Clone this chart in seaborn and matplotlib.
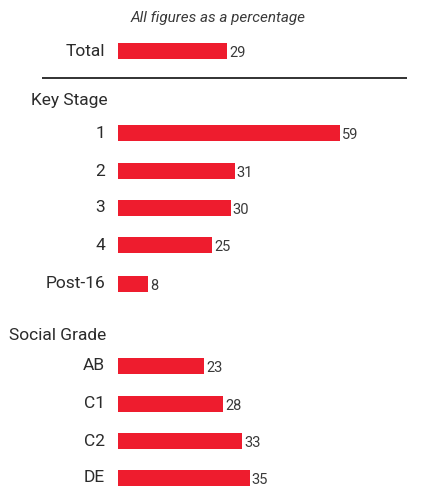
import matplotlib
matplotlib.use("Agg")
import matplotlib.pyplot as plt
import seaborn as sns
import pandas as pd

# Data
categories = ["Total", "1", "2", "3", "4", "Post-16", "AB", "C1", "C2", "DE"]
values = [29, 59, 31, 30, 25, 8, 23, 28, 33, 35]
group_titles = ["Key Stage", "Social Grade"]
subtitle = "All figures as a percentage"

# Layout (figure pixel rows, top = 0)
row_y = [51, 133, 171, 208, 245, 284, 366, 404, 441, 478]
header_y = {"Key Stage": 101, "Social Grade": 335}
header_x = {"Key Stage": 31, "Social Grade": 9}
W, H = 427, 488
x0_px = 118          # left edge of bars
px_per_unit = 3.76

sns.set_theme(style="white")
plt.rcParams["font.family"] = ["Roboto", "DejaVu Sans"]

BAR = "#EE1C2E"
TXT = "#2b2b2b"

fig = plt.figure(figsize=(W / 100, H / 100), dpi=100)
ax = fig.add_axes([0, 0, 1, 1])

df = pd.DataFrame({"category": categories, "value": values, "ypos": row_y})
sns.barplot(data=df, x="value", y="ypos", orient="h", native_scale=True,
            color=BAR, saturation=1, width=16 / 37, linewidth=0,
            ax=ax, errorbar=None)

ax.set_xlim(-x0_px / px_per_unit, (W - x0_px) / px_per_unit)
ax.set_ylim(H, 0)
ax.axis("off")

def px_to_x(px):
    return (px - x0_px) / px_per_unit

# Row labels and value labels
for cat, val, y in zip(categories, values, row_y):
    ax.text(px_to_x(105), y, cat, ha="right", va="center", fontsize=12.5,
            color=TXT)
    ax.text(val + 2 / px_per_unit, y + 2, str(val), ha="left", va="center",
            fontsize=10.5, color="#3a3a3a")

# Group headers
for g in group_titles:
    ax.text(px_to_x(header_x[g]), header_y[g], g, ha="left", va="center",
            fontsize=12.5, color=TXT)

# Separator under the total
ax.plot([px_to_x(42), px_to_x(407)], [78, 78], color="#222222", lw=1.3,
        solid_capstyle="butt")

# Subtitle
ax.text(px_to_x(218), 18, subtitle, ha="center", va="center", fontsize=11,
        style="italic", color="#3a3a3a")

fig.savefig("out.png", dpi=100)
